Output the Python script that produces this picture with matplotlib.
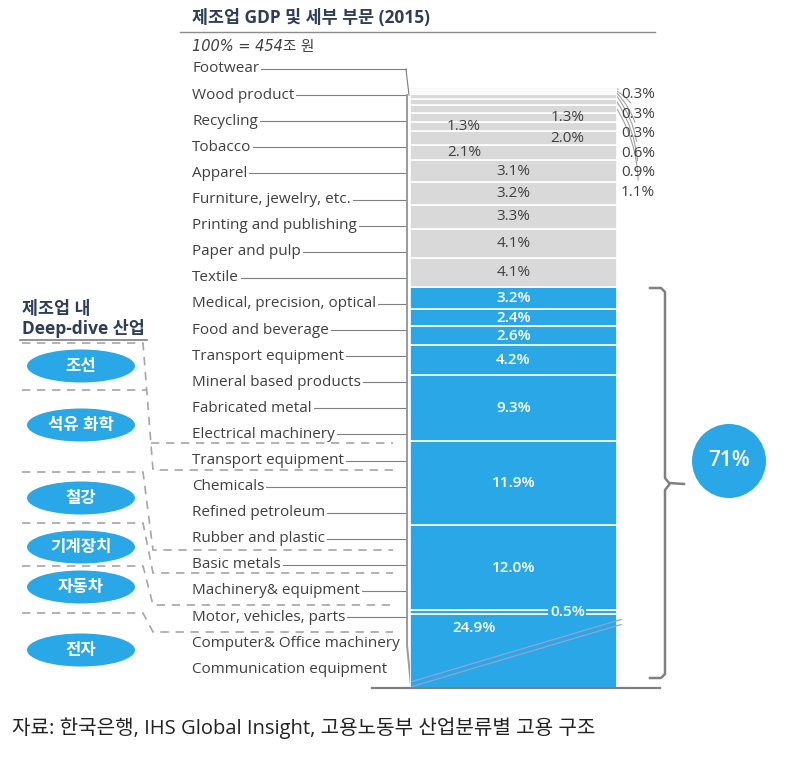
import matplotlib
matplotlib.use("Agg")
import matplotlib.pyplot as plt
from matplotlib.patches import Ellipse, Circle

plt.rcParams['font.family'] = ['Open Sans', 'Noto Sans CJK KR', 'DejaVu Sans']

# Stacked bar, bottom to top (% of manufacturing GDP, 100% = 454조 원)
seg_values = [24.9, 0.5, 12.0, 11.9, 9.3, 4.2, 2.6, 2.4, 3.2,
              4.1, 4.1, 3.3, 3.2, 3.1, 2.1, 2.0, 1.3, 1.3,
              1.1, 0.9, 0.6, 0.3, 0.3, 0.3]
seg_deep = [True] * 9 + [False] * 15
# where each value label goes: c=centre, l=left column, r=right column, o=outside
seg_label_pos = ['l', 'r', 'c', 'c', 'c', 'c', 'c', 'c', 'c',
                 'c', 'c', 'c', 'c', 'c', 'l', 'r', 'l', 'r',
                 'o', 'o', 'o', 'o', 'o', 'o']

sector_labels = ["Footwear", "Wood product", "Recycling", "Tobacco", "Apparel",
                 "Furniture, jewelry, etc.", "Printing and publishing",
                 "Paper and pulp", "Textile", "Medical, precision, optical",
                 "Food and beverage", "Transport equipment",
                 "Mineral based products", "Fabricated metal",
                 "Electrical machinery", "Transport equipment", "Chemicals",
                 "Refined petroleum", "Rubber and plastic", "Basic metals",
                 "Machinery& equipment", "Motor, vehicles, parts",
                 "Computer& Office machinery", "Communication equipment"]

deep_dive = ['조선', '석유 화학', '철강', '기계장치', '자동차', '전자']
deep_share = "71%"

title = "제조업 GDP 및 세부 부문 (2015)"
subtitle = "100% = 454조 원"
source = "자료: 한국은행, IHS Global Insight, 고용노동부 산업분류별 고용 구조"

BLUE = '#2AA7E7'
GRAY = '#D9D9D9'
TXT = '#404040'
LINE = '#7F7F7F'
DASH = '#A6A6A6'
NAVY = '#2F3D57'

W, H = 793, 772
fig = plt.figure(figsize=(W / 100, H / 100), dpi=100)
ax = fig.add_axes([0, 0, 1, 1])
ax.set_xlim(0, W)
ax.set_ylim(H, 0)
ax.axis('off')

# bar axes; lower limit cuts the 24.9% segment (broken bar)
bar_l, bar_r, bar_t, bar_b = 410, 617, 88, 687
bx = fig.add_axes([bar_l / W, 1 - bar_b / H, (bar_r - bar_l) / W, (bar_b - bar_t) / H])
bx.set_xlim(0, 1)
bx.set_ylim(14.6, sum(seg_values))
bx.axis('off')

col_x = {'c': 0.5, 'l': 0.26, 'r': 0.76}
bottom = 0.0
out_i = 0
for v, deep, pos in zip(seg_values, seg_deep, seg_label_pos):
    bx.bar(0.5, v, bottom=bottom, width=1.0, color=BLUE if deep else GRAY,
           edgecolor='white', linewidth=1.2)
    mid = bottom + v / 2
    lab = f"{v:.1f}%"
    if pos == 'o':
        ax.annotate(lab, xy=(1.0, mid), xycoords=bx.transData,
                    xytext=(621, 192 - out_i * 19.4), textcoords='data',
                    ha='left', va='center', fontsize=11, color=TXT,
                    arrowprops=dict(arrowstyle='-', color='#A0A0A0', lw=0.8,
                                    shrinkA=1, shrinkB=0,
                                    connectionstyle='arc3,rad=0.15'))
        out_i += 1
    elif deep:
        y = mid
        if v > 20:
            y = bottom + v - 2.0
            x = 0.31
        else:
            x = col_x[pos]
        bbox = dict(boxstyle='square,pad=0.1', fc=BLUE, ec='none') if v < 1 else None
        bx.text(x, y, lab, ha='center', va='center', fontsize=11,
                color='white', fontweight='semibold', bbox=bbox)
    else:
        bx.text(col_x[pos], mid, lab, ha='center', va='center',
                fontsize=11, color=TXT)
    bottom += v

# break mark across the cut segment (drawn on top of the bar)
for dy in (-2.5, 2.5):
    bx.plot([412, 621], [684 + dy, 622 + dy], color='#93A3CF', lw=0.9,
            transform=ax.transData, clip_on=False)

# baseline
ax.plot([372, 660], [688, 688], color='#7F7F7F', lw=1.6)

# title
ax.text(192, 18, title, fontsize=12.5, fontweight='bold', color=NAVY, va='center')
ax.plot([180, 655], [32, 32], color='#8C8C8C', lw=1.0)
ax.text(192, 46, subtitle, fontsize=10.5, style='italic', color=TXT, va='center',
        family=['DejaVu Sans', 'Noto Sans CJK KR'])

# sector labels with leaders
label_y = [69 + i * 26.1 for i in range(len(sector_labels))]
texts = []
for lab, y in zip(sector_labels, label_y):
    texts.append(ax.text(192, y, lab, fontsize=11, color=TXT, va='center'))

fig.canvas.draw()
rend = fig.canvas.get_renderer()
inv = ax.transData.inverted()
for t, y in zip(texts[:-2], label_y[:-2]):
    bb = t.get_window_extent(rend)
    x1 = inv.transform((bb.x1, bb.y0))[0]
    ax.plot([x1 + 2, 406], [y, y], color=LINE, lw=0.8)
ax.plot([406, 409], [label_y[0], label_y[1]], color=LINE, lw=0.8)
ax.plot([407, 407, 411], [label_y[1], 645, 686], color='#9A9A9A', lw=1.4)

# deep-dive header
ax.text(22, 309, "제조업 내", fontsize=12.5, fontweight='bold', color=NAVY, va='center')
ax.text(22, 329, "Deep-dive 산업", fontsize=12.5, fontweight='bold', color=NAVY, va='center')
ax.plot([20, 147], [340, 340], color='#808080', lw=1.2)

oval_y = [366, 425, 498, 547, 587, 650]
for name, y in zip(deep_dive, oval_y):
    ax.add_patch(Ellipse((81, y), 108, 33, color=BLUE, lw=0))
    ax.text(81, y, name, ha='center', va='center', fontsize=12,
            fontweight='bold', color='white')

# dashed group connectors
dash_kw = dict(color=DASH, lw=1.2, dashes=(5, 4))
ax.plot([22, 143, 153, 393], [343, 343, 470, 470], **dash_kw)
ax.plot([22, 146], [390, 390], **dash_kw)
ax.plot([151, 393], [443, 443], **dash_kw)
for yl, yr in [(472, 550), (523, 573), (566, 605), (613, 632)]:
    ax.plot([22, 143, 153, 393], [yl, yl, yr, yr], **dash_kw)

# brace and 71% bubble
ax.plot([650, 661, 665, 665, 669, 684], [288, 288, 292, 478, 483, 484],
        color='#808080', lw=1.8)
ax.plot([669, 665, 665, 661, 650], [485, 490, 674, 678, 678],
        color='#808080', lw=1.8)
ax.add_patch(Circle((729, 461), 37, color=BLUE, lw=0))
ax.text(729, 461, deep_share, ha='center', va='center', fontsize=15,
        fontweight='semibold', color='white')

# source
ax.text(12, 728, source, fontsize=14.5, color='#222222', va='center')

fig.savefig("out.png", dpi=100)
